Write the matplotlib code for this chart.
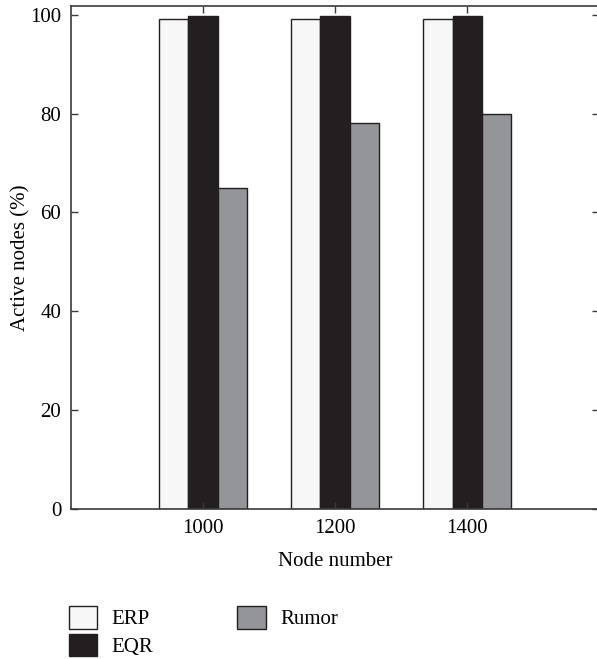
import matplotlib.pyplot as plt
import numpy as np

plt.rcParams['font.family'] = ['Liberation Serif', 'DejaVu Serif']

node_numbers = ['1000', '1200', '1400']
erp = [99.1, 99.2, 99.2]
eqr = [99.8, 99.8, 99.8]
rumor = [65, 78, 80]

fig = plt.figure(figsize=(5.97, 6.59), dpi=100)
ax = fig.add_axes([0.119, 0.2276, 0.885, 0.7635])

x = np.arange(len(node_numbers))
w = 0.223
edge = '#231f20'
b1 = ax.bar(x - w, erp, w, color='#f7f7f7', edgecolor=edge, linewidth=1.0, label='ERP')
b2 = ax.bar(x, eqr, w, color='#231f20', edgecolor=edge, linewidth=1.0, label='EQR')
b3 = ax.bar(x + w, rumor, w, color='#939598', edgecolor=edge, linewidth=1.0, label='Rumor')

ax.set_xlim(-1, 3)
ax.set_ylim(0, 101.8)
ax.set_xticks(x)
ax.set_xticklabels(node_numbers)
ax.set_yticks([0, 20, 40, 60, 80, 100])
ax.tick_params(direction='in', top=True, right=True, length=5, width=1,
               labelsize=15, color='#3a3a3a', pad=7)
for s in ax.spines.values():
    s.set_color('#3a3a3a')
    s.set_linewidth(1.2)

ax.set_xlabel('Node number', fontsize=15, labelpad=10)
ax.set_ylabel('Active nodes (%)', fontsize=15, labelpad=0)

fig.legend(handles=[b1, b2, b3], loc='upper left', bbox_to_anchor=(0.115, 0.080),
           ncol=2, frameon=False, fontsize=15, handlelength=1.35, handleheight=1.27,
           handletextpad=0.7, labelspacing=0.2, columnspacing=4.05, borderpad=0,
           borderaxespad=0)

fig.savefig('out.png', dpi=100)
